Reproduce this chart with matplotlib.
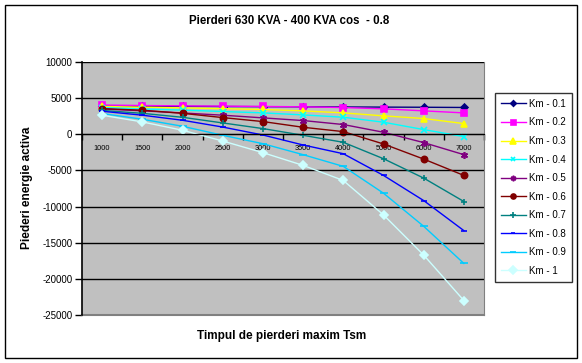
import matplotlib
matplotlib.use("Agg")
import matplotlib.pyplot as plt
from matplotlib.patches import Rectangle

plt.rcParams['font.family'] = ['Liberation Sans', 'DejaVu Sans']

categories = ['1000', '1500', '2000', '2500', '3000', '3500', '4000', '5000', '6000', '7000']
km01 = [3900, 3880, 3860, 3840, 3820, 3800, 3780, 3760, 3740, 3710]
km02 = [4050, 3980, 3930, 3890, 3850, 3800, 3700, 3520, 3240, 2960]
km03 = [3850, 3750, 3650, 3540, 3430, 3240, 2960, 2550, 2180, 1480]
km04 = [3700, 3500, 3350, 3150, 2960, 2680, 2360, 1670, 650, -320]
km05 = [3500, 3250, 2950, 2640, 2270, 1900, 1350, 280, -1150, -2820]
km06 = [3550, 3330, 2900, 2310, 1760, 970, 370, -1340, -3430, -5690]
km07 = [3300, 2900, 2350, 1570, 790, -140, -1110, -3380, -6060, -9300]
km08 = [3190, 2640, 1940, 1000, -100, -1480, -2690, -5690, -9170, -13330]
km09 = [2870, 2080, 1110, -140, -1300, -2820, -4440, -8150, -12730, -17870]
km10 = [2640, 1710, 560, -930, -2540, -4300, -6390, -11150, -16710, -23000]

series = [km01, km02, km03, km04, km05, km06, km07, km08, km09, km10]
labels = ['Km - 0.1', 'Km - 0.2', 'Km - 0.3', 'Km - 0.4', 'Km - 0.5',
          'Km - 0.6', 'Km - 0.7', 'Km - 0.8', 'Km - 0.9', 'Km - 1']
colors = ['#000080', '#FF00FF', '#FFFF00', '#00FFFF', '#800080',
          '#800000', '#008080', '#0000FF', '#00CCFF', '#CCFFFF']
markers = ['D', 's', '^', 'x', (6, 2, 0), 'o', '+', '_', '_', 'D']
msizes = [3.5, 4.5, 5, 4, 5, 4.5, 5, 4, 6, 4.5]

W, H = 582, 363
fig = plt.figure(figsize=(W / 100, H / 100), dpi=100)
ax = fig.add_axes([82 / W, 1 - 315 / H, (484 - 82) / W, (315 - 62) / H])
ax.set_facecolor('#C0C0C0')

ax.spines['bottom'].set_position(('data', 0))
ax.spines['bottom'].set_color('black')
ax.spines['top'].set_visible(False)
ax.spines['right'].set_color('#808080')
ax.spines['left'].set_color('black')
ax.spines['left'].set_linewidth(1.2)

x = list(range(len(categories)))
for s, lab, c, m, ms in zip(series, labels, colors, markers, msizes):
    ax.plot(x, s, color=c, lw=1, marker=m, markersize=ms,
            markerfacecolor=c, markeredgecolor=c, markeredgewidth=1.2, label=lab)

ax.set_xlim(-0.5, 9.5)
ax.set_ylim(-25000, 10000)
ax.set_yticks(range(-25000, 10001, 5000))
ax.set_yticklabels([str(v) for v in range(-25000, 10001, 5000)])
ax.tick_params(axis='y', length=5, width=1, pad=2, labelsize=7)
ax.yaxis.grid(True, color='black', lw=1)
ax.set_axisbelow(True)

ax.set_xticks(x)
ax.set_xticklabels(categories)
ax.set_xticks([i - 0.5 for i in range(11)], minor=True)
ax.tick_params(axis='x', which='major', length=0, pad=8, labelsize=5.3)
ax.tick_params(axis='x', which='minor', length=4, width=1, direction='out')

ax.axhline(-25000, color='#808080', lw=1.5, clip_on=False)

fig.text(289 / W, 1 - 21 / H, 'Pierderi 630 KVA - 400 KVA cos  - 0.8',
         ha='center', va='center', fontsize=8.3, fontweight='bold')
fig.text(282 / W, 1 - 336 / H, 'Timpul de pierderi maxim Tsm',
         ha='center', va='center', fontsize=8.5, fontweight='bold')
fig.text(27 / W, 1 - 188 / H, 'Piederi energie activa', rotation=90,
         ha='center', va='center', fontsize=8.6, fontweight='bold')

leg = ax.legend(loc='upper left', bbox_to_anchor=(495 / W, 1 - 93 / H),
                bbox_transform=fig.transFigure, fontsize=7, frameon=True,
                fancybox=False, edgecolor='black', borderpad=0.6,
                labelspacing=0.88, handlelength=2.6, handletextpad=0.3,
                borderaxespad=0, markerscale=0.8)
leg.get_frame().set_linewidth(1)

fig.patches.append(Rectangle((5 / W, 5 / H), 572 / W, 353 / H, transform=fig.transFigure,
                             fill=False, edgecolor='black', lw=1))

fig.savefig('out.png', dpi=100)
